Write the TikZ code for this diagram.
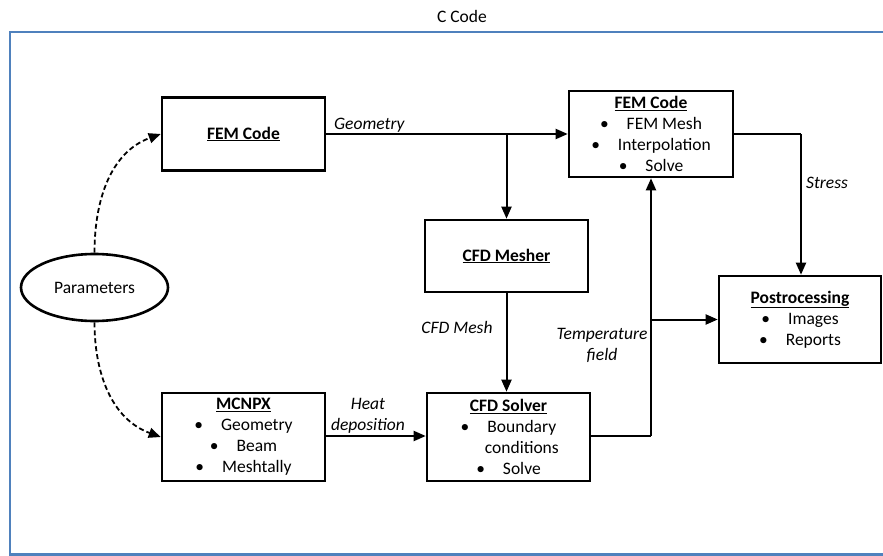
\documentclass[tikz,border=0pt]{standalone}
\usepackage{fontspec}
\setmainfont{Carlito}
\usetikzlibrary{arrows.meta,shapes.geometric}
\definecolor{frameblue}{RGB}{79,129,189}
\newcommand{\bul}{\textbullet\hspace{18pt}}
\tikzset{
  x=1pt,y=1pt,
  every node/.style={font=\fontsize{17.5}{21}\selectfont, inner sep=0pt},
  box/.style={draw, line width=2.6pt, rectangle, align=center},
  conn/.style={line width=2pt, -{Triangle[length=12pt,width=10pt]}},
  plain/.style={line width=2pt},
  dconn/.style={line width=1.8pt, dash pattern=on 5pt off 3pt, -{Triangle[length=12pt,width=10pt]}},
  lbl/.style={font=\fontsize{17.5}{21}\selectfont\itshape, align=center}
}
\begin{document}
\begin{tikzpicture}
\useasboundingbox (0,0) rectangle (883,-556);
\draw[frameblue, line width=2.2pt] (10,-32) rectangle (900,-554.5);
\node (title) at (462,-16) {C Code};

\node[box, minimum width=163pt, minimum height=73pt] (fem1) at (243.5,-134) {\textbf{\underline{FEM Code}}};
\node[box, minimum width=164pt, minimum height=86pt] (fem2) at (651,-134) {\textbf{\underline{FEM Code}}\\\bul FEM Mesh\\\bul Interpolation\\\bul Solve};
\node[box, minimum width=163pt, minimum height=72pt] (mesher) at (506.5,-256) {\textbf{\underline{CFD Mesher}}};
\node[box, minimum width=162pt, minimum height=87pt] (post) at (800,-319.5) {\textbf{\underline{Postrocessing}}\\\bul Images\\\bul Reports};
\node[box, minimum width=163pt, minimum height=88pt] (solver) at (508.5,-437) {\textbf{\underline{CFD Solver}}\\\bul Boundary\\\hphantom{\bul}conditions\\\bul Solve};
\node[box, minimum width=163pt, minimum height=88pt] (mcnpx) at (243.5,-437) {\textbf{\underline{MCNPX}}\\\bul Geometry\\\bul Beam\\\bul Meshtally};
\node[draw, ellipse, line width=2.6pt, minimum width=147pt, minimum height=67pt] (params) at (94.5,-287.5) {Parameters};

\coordinate (b1) at (506.5,-134);
\coordinate (b2) at (651,-436);
\coordinate (b3) at (651,-319.5);
\coordinate (b4) at (801,-134);

\draw[conn] (fem1.east) -- (fem2.west);
\draw[conn] (b1) -- (mesher.north);
\draw[conn] (mesher.south) -- (mesher.south |- solver.north);
\draw[plain] (solver.east |- b2) -- (b2);
\draw[conn] (b2) -- (fem2.south -| b2);
\draw[conn] (b3) -- (post.west);
\draw[plain] (fem2.east) -- (b4);
\draw[conn] (b4) -- (b4 |- post.north);
\draw[conn] (mcnpx.east |- b2) -- (solver.west |- b2);
\draw[dconn] (params.north) to[out=90,in=200] (fem1.west);
\draw[dconn] (params.south) to[out=-90,in=160] (mcnpx.west);

\node[lbl, anchor=west] (lgeo) at (334,-125) {Geometry};
\node[lbl, anchor=west] (lstress) at (806,-183) {Stress};
\node[lbl] (lmesh) at (457,-327) {CFD Mesh};
\node[lbl] (ltemp) at (602,-345.5) {Temperature\\field};
\node[lbl] (lheat) at (368,-415.5) {Heat\\deposition};
\end{tikzpicture}
\end{document}
